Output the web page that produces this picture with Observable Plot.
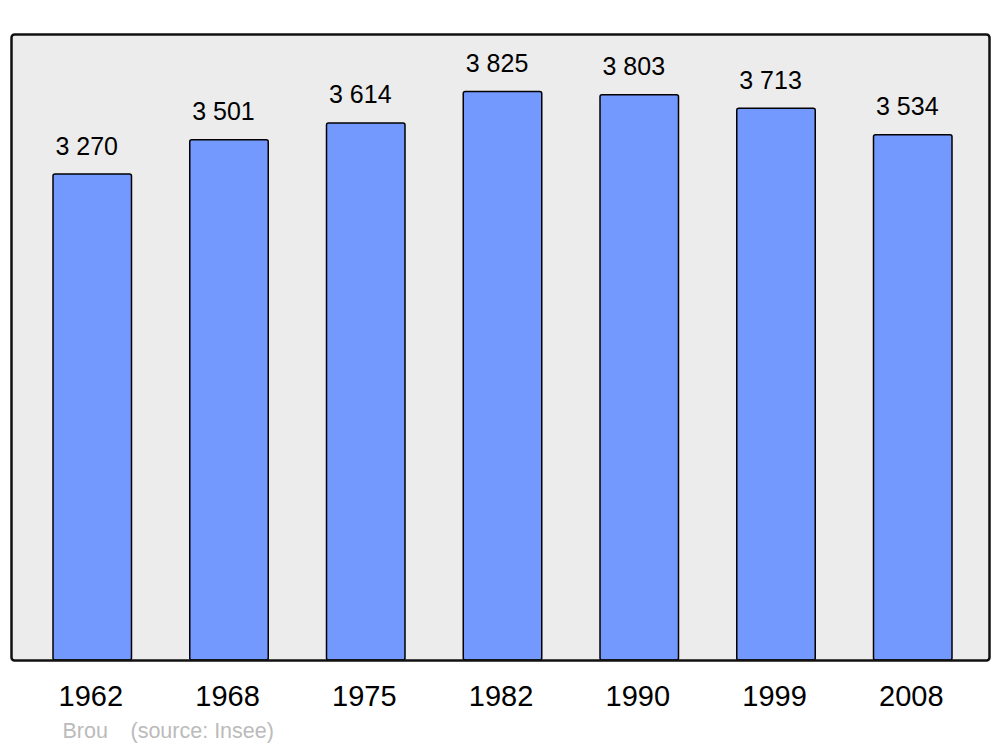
<!DOCTYPE html>
<html>
<head>
<meta charset="utf-8">
<script src="https://cdn.jsdelivr.net/npm/d3@7"></script>
<script src="https://cdn.jsdelivr.net/npm/@observablehq/plot@0.6"></script>
<style>
  html, body { margin: 0; padding: 0; background: #fff; }
  svg { display: block; font-family: "Liberation Sans", Arial, sans-serif; }
</style>
</head>
<body>
<div id="chart"></div>
<script>
const years = ["1962", "1968", "1975", "1982", "1990", "1999", "2008"];
const population = [3270, 3501, 3614, 3825, 3803, 3713, 3534];
const placeName = "Brou";
const sourceText = "(source: Insee)";

const data = years.map((year, i) => ({year, pop: population[i]}));
const fmt = d3.formatLocale({thousands: "\u00a0", grouping: [3], decimal: ",", currency: ["", ""]}).format(",");

const chart = Plot.plot({
  width: 1000,
  height: 747,
  marginTop: 34,
  marginBottom: 87,
  marginLeft: 11,
  marginRight: 11,
  style: {fontFamily: "'Liberation Sans', Arial, sans-serif", background: "white"},
  x: {type: "band", domain: years, range: [53, 952], paddingInner: 0.426, paddingOuter: 0, round: false, axis: null},
  y: {domain: [0, 4212], range: [660, 34], axis: null},
  marks: [
    Plot.frame({fill: "#ececec", stroke: "none"}),
    Plot.barY(data, {x: "year", y: "pop", fill: "#7399ff", stroke: "#000", strokeWidth: 1.5, rx: 2}),
    Plot.frame({fill: "none", stroke: "#111", strokeWidth: 2.5, rx: 3}),
    Plot.text(data, {x: "year", y: "pop", text: d => fmt(d.pop), lineAnchor: "bottom", dx: -6, dy: -20, fontSize: 25, fill: "#000"}),
    Plot.text(data, {x: "year", y: () => 0, text: "year", lineAnchor: "bottom", dx: -2, dy: 45, fontSize: 29, fill: "#000"}),
    Plot.text([placeName], {frameAnchor: "bottom-left", text: d => d, textAnchor: "start", lineAnchor: "bottom", dx: 51, dy: 77, fontSize: 21.5, fill: "#bbbbbb"}),
    Plot.text([sourceText], {frameAnchor: "bottom-left", text: d => d, textAnchor: "start", lineAnchor: "bottom", dx: 119, dy: 77, fontSize: 21.5, fill: "#bbbbbb"})
  ]
});
document.getElementById("chart").appendChild(chart);
</script>
</body>
</html>
